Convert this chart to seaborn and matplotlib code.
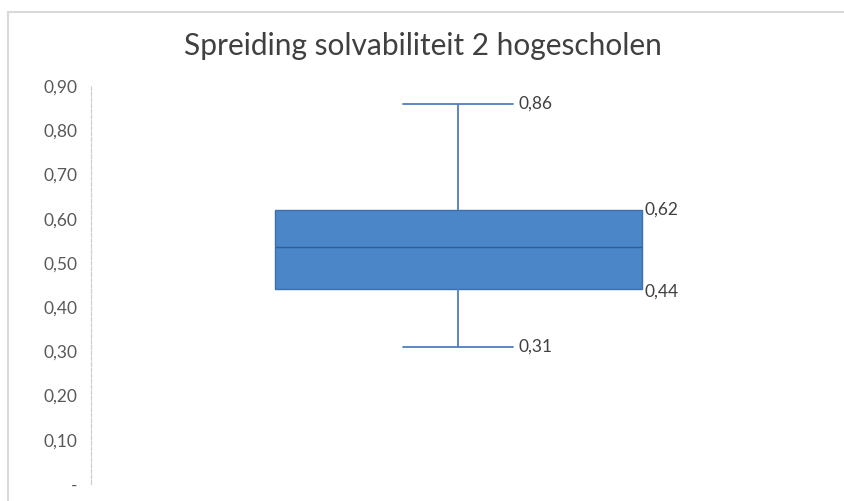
import matplotlib
matplotlib.use("Agg")
import matplotlib.pyplot as plt
import seaborn as sns
import pandas as pd
from matplotlib.patches import Rectangle

# Data (five-number summary)
category = ["Solvabiliteit"]
values = [0.31, 0.44, 0.535, 0.62, 0.86]   # min, Q1, median, Q3, max
label_values = [0.86, 0.62, 0.44, 0.31]
yticks = [0.0, 0.1, 0.2, 0.3, 0.4, 0.5, 0.6, 0.7, 0.8, 0.9]
ytick_labels = ["-", "0,10", "0,20", "0,30", "0,40", "0,50", "0,60", "0,70", "0,80", "0,90"]
title = "Spreiding solvabiliteit 2 hogescholen"

sns.set_theme(style="white")
plt.rcParams["font.family"] = ["Lato", "DejaVu Sans"]

df = pd.DataFrame({"cat": category * len(values), "val": values})

fig = plt.figure(figsize=(8.44, 5.01), dpi=100)
ax = fig.add_axes([91 / 844, (501 - 484) / 501, (825 - 91) / 844, 398 / 501])

box_face = "#4a86c8"
edge = "#3b6fae"
bw = 0.5
cw = 0.15
sns.boxplot(data=df, x="cat", y="val", ax=ax, width=bw, color=box_face,
            saturation=1, fliersize=0, capwidths=cw,
            boxprops=dict(facecolor=box_face, edgecolor=edge, linewidth=1.0),
            medianprops=dict(color="#2f5f99", linewidth=1.0),
            whiskerprops=dict(color="#4f7fba", linewidth=1.3),
            capprops=dict(color="#4f7fba", linewidth=1.3))

ax.set_xlim(-0.5, 0.5)
ax.set_ylim(0, 0.9)
ax.set_yticks(yticks)
ax.set_yticklabels(ytick_labels)
ax.tick_params(axis="y", length=0, pad=10, labelsize=12.5, labelcolor="#595959")
ax.set_xticks([])
ax.set_xlabel("")
ax.set_ylabel("")
for s in ["top", "right", "bottom"]:
    ax.spines[s].set_visible(False)
ax.spines["left"].set_color("#cfcfcf")
ax.spines["left"].set_linestyle((0, (3, 1.5)))
ax.spines["left"].set_linewidth(0.9)

# data labels
txt_kw = dict(fontsize=12.5, color="#404040", va="center", ha="left",
              textcoords="offset points")
ax.annotate("0,86", (cw / 2, label_values[0]), xytext=(4, 0), **txt_kw)
ax.annotate("0,62", (bw / 2, label_values[1]), xytext=(2, 0), **txt_kw)
ax.annotate("0,44", (bw / 2, label_values[2]), xytext=(2, -1.5), **txt_kw)
ax.annotate("0,31", (cw / 2, label_values[3]), xytext=(4, 0), **txt_kw)

fig.text(423 / 844, 1 - 46 / 501, title, ha="center", va="center",
         fontsize=21.5, color="#404040")

# chart frame
fig.patches.append(Rectangle((8 / 844, -0.1), 1.0, (501 - 12) / 501 + 0.1,
                             transform=fig.transFigure, fill=False,
                             edgecolor="#d9d9d9", linewidth=1.5))

fig.savefig("out.png", dpi=100)
